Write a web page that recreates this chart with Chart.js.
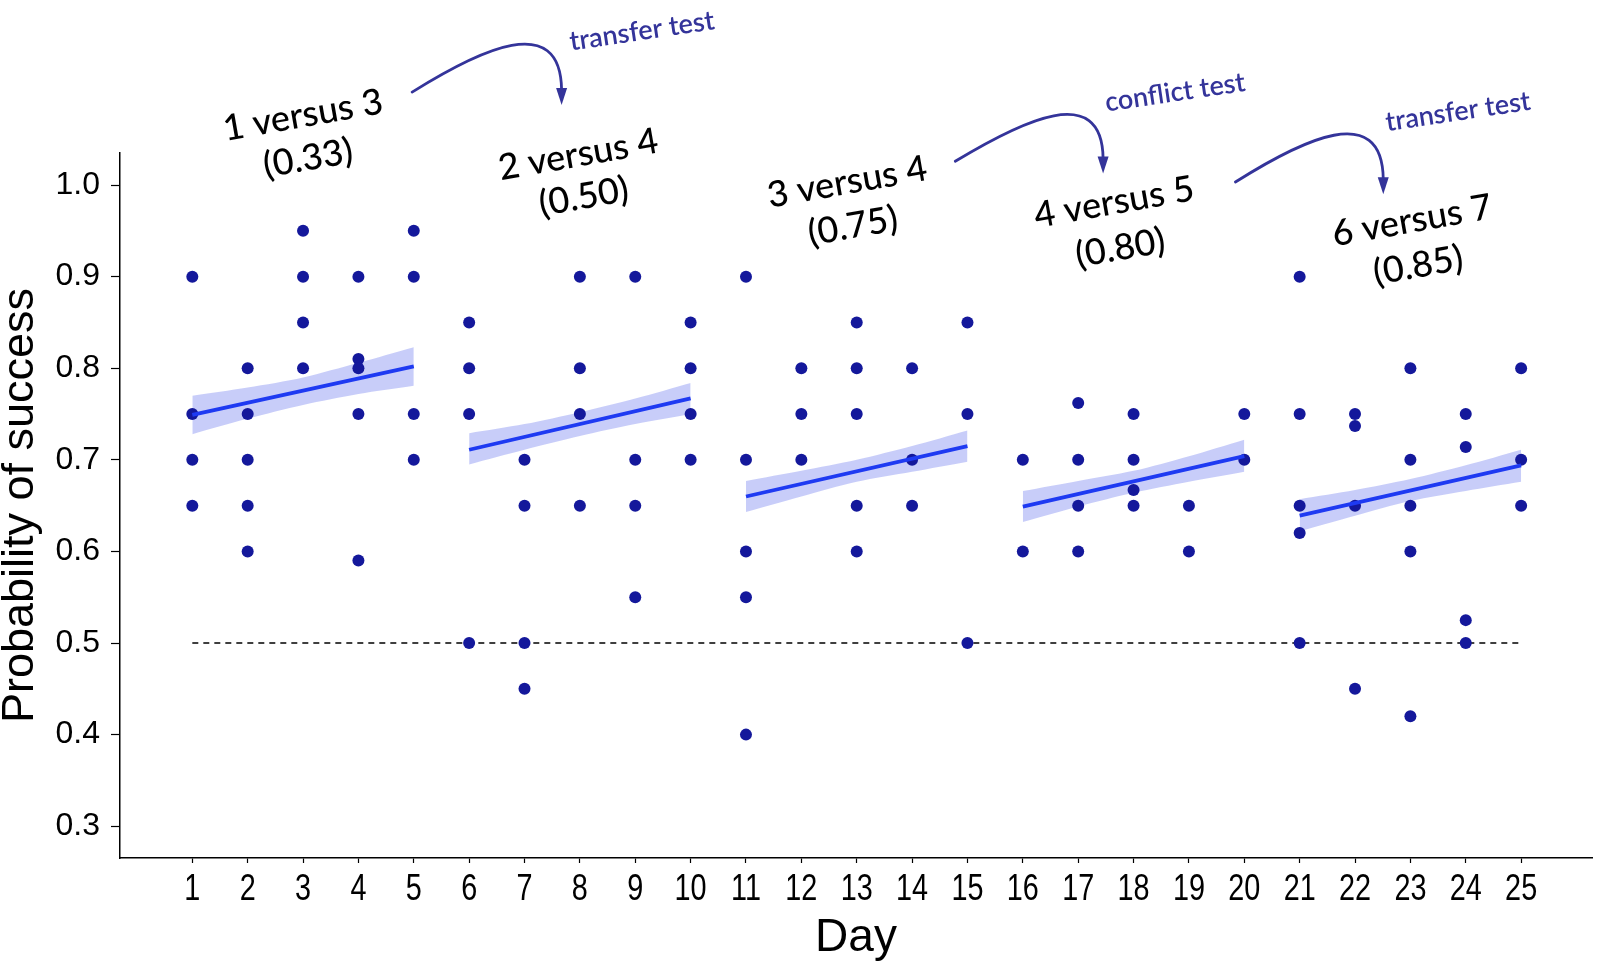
<!DOCTYPE html>
<html>
<head>
<meta charset="utf-8">
<script src="https://cdn.jsdelivr.net/npm/chart.js@4.4.0/dist/chart.umd.min.js"></script>
<style>
    html, body { margin: 0; padding: 0; background: #fff; }
    #wrap { width: 1600px; height: 965px; }
</style>
</head>
<body>
<div id="wrap"><canvas id="chart"></canvas></div>
<script>
// Data
const days = [1, 2, 3, 4, 5, 6, 7, 8, 9, 10, 11, 12, 13, 14, 15, 16, 17, 18, 19, 20, 21, 22, 23, 24, 25];

// success probability of each session, one list per day
const daySuccess = [
    [0.90, 0.75, 0.70, 0.65],
    [0.80, 0.75, 0.70, 0.65, 0.60],
    [0.95, 0.90, 0.85, 0.80],
    [0.90, 0.81, 0.80, 0.75, 0.59],
    [0.95, 0.90, 0.75, 0.70],
    [0.85, 0.80, 0.75, 0.50],
    [0.70, 0.65, 0.50, 0.45],
    [0.90, 0.80, 0.75, 0.65],
    [0.90, 0.70, 0.65, 0.55],
    [0.85, 0.80, 0.75, 0.70],
    [0.90, 0.70, 0.60, 0.55, 0.40],
    [0.80, 0.75, 0.70],
    [0.85, 0.80, 0.75, 0.65, 0.60],
    [0.80, 0.70, 0.65],
    [0.85, 0.75, 0.50],
    [0.70, 0.60],
    [0.762, 0.70, 0.65, 0.60],
    [0.75, 0.70, 0.667, 0.65],
    [0.65, 0.60],
    [0.75, 0.70],
    [0.90, 0.75, 0.65, 0.62, 0.50],
    [0.75, 0.737, 0.65, 0.45],
    [0.80, 0.70, 0.65, 0.60, 0.42],
    [0.75, 0.714, 0.525, 0.50],
    [0.80, 0.70, 0.65]
];

// linear fit per phase (first and last day of each phase)
const phaseFirstDay = [1, 6, 11, 16, 21];
const phaseLastDay = [5, 10, 15, 20, 25];
const fitStart = [0.749, 0.711, 0.660, 0.649, 0.639];
const fitEnd = [0.802, 0.767, 0.715, 0.704, 0.694];

// confidence band of the fit, per day
const bandUpper = [0.770, 0.779, 0.790, 0.806, 0.823, 0.729, 0.739, 0.752, 0.767, 0.784,
                   0.677, 0.688, 0.700, 0.715, 0.732, 0.666, 0.677, 0.688, 0.704, 0.722,
                   0.657, 0.667, 0.679, 0.694, 0.711];
const bandLower = [0.728, 0.745, 0.760, 0.772, 0.781, 0.695, 0.711, 0.726, 0.739, 0.750,
                   0.643, 0.660, 0.676, 0.687, 0.698, 0.632, 0.649, 0.664, 0.676, 0.687,
                   0.622, 0.639, 0.655, 0.666, 0.676];

const chanceLevel = 0.5;
const yTicks = [0.3, 0.4, 0.5, 0.6, 0.7, 0.8, 0.9, 1.0];

const phaseLabels = ['1 versus 3', '2 versus 4', '3 versus 4', '4 versus 5', '6 versus 7'];
const phaseRatios = ['(0.33)', '(0.50)', '(0.75)', '(0.80)', '(0.85)'];
const testLabels = ['transfer test', 'conflict test', 'transfer test'];

// Styles
const pointColor = '#14189b';
const fitColor = '#1e3af2';
const bandColor = 'rgba(125, 135, 240, 0.42)';
const noteColor = '#34349a';
const sansFont = '"Liberation Sans", Arial, sans-serif';

// Build datasets
const pointData = [];
daySuccess.forEach((vals, i) => {
    vals.forEach(v => pointData.push({ x: days[i], y: v }));
});

const datasets = [];

phaseFirstDay.forEach((first, p) => {
    const last = phaseLastDay[p];
    datasets.push({
        data: [{ x: first, y: fitStart[p] }, { x: last, y: fitEnd[p] }],
        borderColor: fitColor,
        borderWidth: 3.8,
        pointRadius: 0,
        fill: false,
        order: 0
    });
    const idx = days.map((d, i) => i).filter(i => days[i] >= first && days[i] <= last);
    datasets.push({
        data: idx.map(i => ({ x: days[i], y: bandUpper[i] })),
        borderWidth: 0,
        pointRadius: 0,
        tension: 0.3,
        backgroundColor: bandColor,
        fill: '+1',
        order: 2
    });
    datasets.push({
        data: idx.map(i => ({ x: days[i], y: bandLower[i] })),
        borderWidth: 0,
        pointRadius: 0,
        tension: 0.3,
        fill: false,
        order: 2
    });
});

datasets.push({
    data: pointData,
    showLine: false,
    pointRadius: 6,
    pointBackgroundColor: pointColor,
    pointBorderWidth: 0,
    order: 1
});

datasets.push({
    data: [{ x: days[0], y: chanceLevel }, { x: days[days.length - 1], y: chanceLevel }],
    borderColor: '#000',
    borderWidth: 1.4,
    borderDash: [6, 5],
    pointRadius: 0,
    fill: false,
    order: 3
});

// Annotations (positions in data units)
const phaseNotePos = [
    { x: 3.00, y: 1.076, rx: 3.09, ry: 1.029 },
    { x: 7.97, y: 1.033, rx: 8.07, ry: 0.987 },
    { x: 12.83, y: 1.003, rx: 12.93, ry: 0.955 },
    { x: 17.65, y: 0.981, rx: 17.76, ry: 0.931 },
    { x: 23.03, y: 0.961, rx: 23.14, ry: 0.912 }
];
const testNotePos = [
    { x: 9.12, y: 1.168 },
    { x: 18.75, y: 1.101 },
    { x: 23.86, y: 1.080 }
];
const arrowPos = [
    { sx: 4.97, sy: 1.1015, peak: 1.155, tx: 7.67, ty: 1.0873 },
    { sx: 14.78, sy: 1.026, peak: 1.0775, tx: 17.45, ty: 1.0125 },
    { sx: 19.84, sy: 1.0033, peak: 1.0567, tx: 22.51, ty: 0.990 }
];

const notesPlugin = {
    id: 'phaseNotes',
    afterDraw(chart) {
        const { ctx, scales: { x, y } } = chart;

        function rotatedText(text, xv, yv, angle, font, color) {
            ctx.save();
            ctx.translate(x.getPixelForValue(xv), y.getPixelForValue(yv));
            ctx.rotate(angle);
            ctx.font = font;
            ctx.fillStyle = color;
            ctx.textAlign = 'center';
            ctx.textBaseline = 'middle';
            ctx.fillText(text, 0, 0);
            ctx.restore();
        }

        // condensed day labels under the x axis ticks
        ctx.save();
        ctx.font = '36px ' + sansFont;
        ctx.fillStyle = '#000';
        ctx.textAlign = 'center';
        ctx.textBaseline = 'middle';
        x.ticks.forEach(t => {
            ctx.save();
            ctx.translate(x.getPixelForValue(t.value), x.top + 32);
            ctx.scale(0.8, 1);
            ctx.fillText(String(t.value), 0, 0);
            ctx.restore();
        });
        ctx.restore();

        phaseNotePos.forEach((pos, i) => {
            rotatedText(phaseLabels[i], pos.x, pos.y, -10 * Math.PI / 180, '500 36px Lato', '#000');
            rotatedText(phaseRatios[i], pos.rx, pos.ry, -10 * Math.PI / 180, '500 36px Lato', '#000');
        });

        testNotePos.forEach((pos, i) => {
            rotatedText(testLabels[i], pos.x, pos.y, -8.5 * Math.PI / 180, '600 27px Lato', noteColor);
        });

        arrowPos.forEach(a => {
            const sx = x.getPixelForValue(a.sx), sy = y.getPixelForValue(a.sy);
            const tx = x.getPixelForValue(a.tx), ty = y.getPixelForValue(a.ty);
            const py = y.getPixelForValue(a.peak);
            const headLen = 17, headHalf = 5.5;
            ctx.save();
            ctx.strokeStyle = noteColor;
            ctx.fillStyle = noteColor;
            ctx.lineWidth = 2.8;
            ctx.lineCap = 'round';
            ctx.beginPath();
            ctx.moveTo(sx, sy);
            ctx.bezierCurveTo(sx + 0.45 * (tx - sx), py + 7, tx - 1, py - 33, tx, ty - headLen + 2);
            ctx.stroke();
            ctx.beginPath();
            ctx.moveTo(tx, ty);
            ctx.lineTo(tx - headHalf, ty - headLen);
            ctx.lineTo(tx + headHalf, ty - headLen);
            ctx.closePath();
            ctx.fill();
            ctx.restore();
        });
    }
};

const ctx = document.getElementById('chart').getContext('2d');
new Chart(ctx, {
    type: 'line',
    data: { datasets: datasets },
    options: {
        responsive: true,
        maintainAspectRatio: false,
        devicePixelRatio: 1,
        animation: false,
        layout: { padding: { top: 153, right: 8, left: 0, bottom: 0 } },
        plugins: {
            legend: { display: false },
            tooltip: { enabled: false }
        },
        scales: {
            x: {
                type: 'linear',
                min: -0.306,
                max: 26.28,
                afterBuildTicks: scale => { scale.ticks = days.map(v => ({ value: v })); },
                afterFit: scale => { scale.height = 107; },
                ticks: {
                    // drawn condensed by the notes plugin
                    color: 'rgba(0,0,0,0)',
                    font: { family: sansFont, size: 36 },
                    padding: 4,
                    maxRotation: 0,
                    autoSkip: false
                },
                grid: {
                    drawOnChartArea: false,
                    drawTicks: true,
                    tickLength: 5,
                    color: '#000',
                    tickWidth: 1.2
                },
                border: { display: true, color: '#000', width: 1.5 },
                title: {
                    display: true,
                    text: 'Day',
                    color: '#000',
                    font: { family: sansFont, size: 46, lineHeight: 1 },
                    padding: { top: 0, bottom: 4 }
                }
            },
            y: {
                type: 'linear',
                min: 0.2653,
                max: 1.035,
                afterBuildTicks: scale => { scale.ticks = yTicks.map(v => ({ value: v })); },
                afterFit: scale => { scale.width = 120; },
                ticks: {
                    color: '#000',
                    font: { family: sansFont, size: 32 },
                    padding: 11,
                    callback: v => v.toFixed(1)
                },
                grid: {
                    drawOnChartArea: false,
                    drawTicks: true,
                    tickLength: 9,
                    color: '#000',
                    tickWidth: 1.2
                },
                border: { display: true, color: '#000', width: 1.5 },
                title: {
                    display: true,
                    text: 'Probability of success',
                    color: '#000',
                    font: { family: sansFont, size: 45, lineHeight: 0.9 },
                    padding: { top: 0, bottom: 0 }
                }
            }
        }
    },
    plugins: [notesPlugin]
});
</script>
</body>
</html>
